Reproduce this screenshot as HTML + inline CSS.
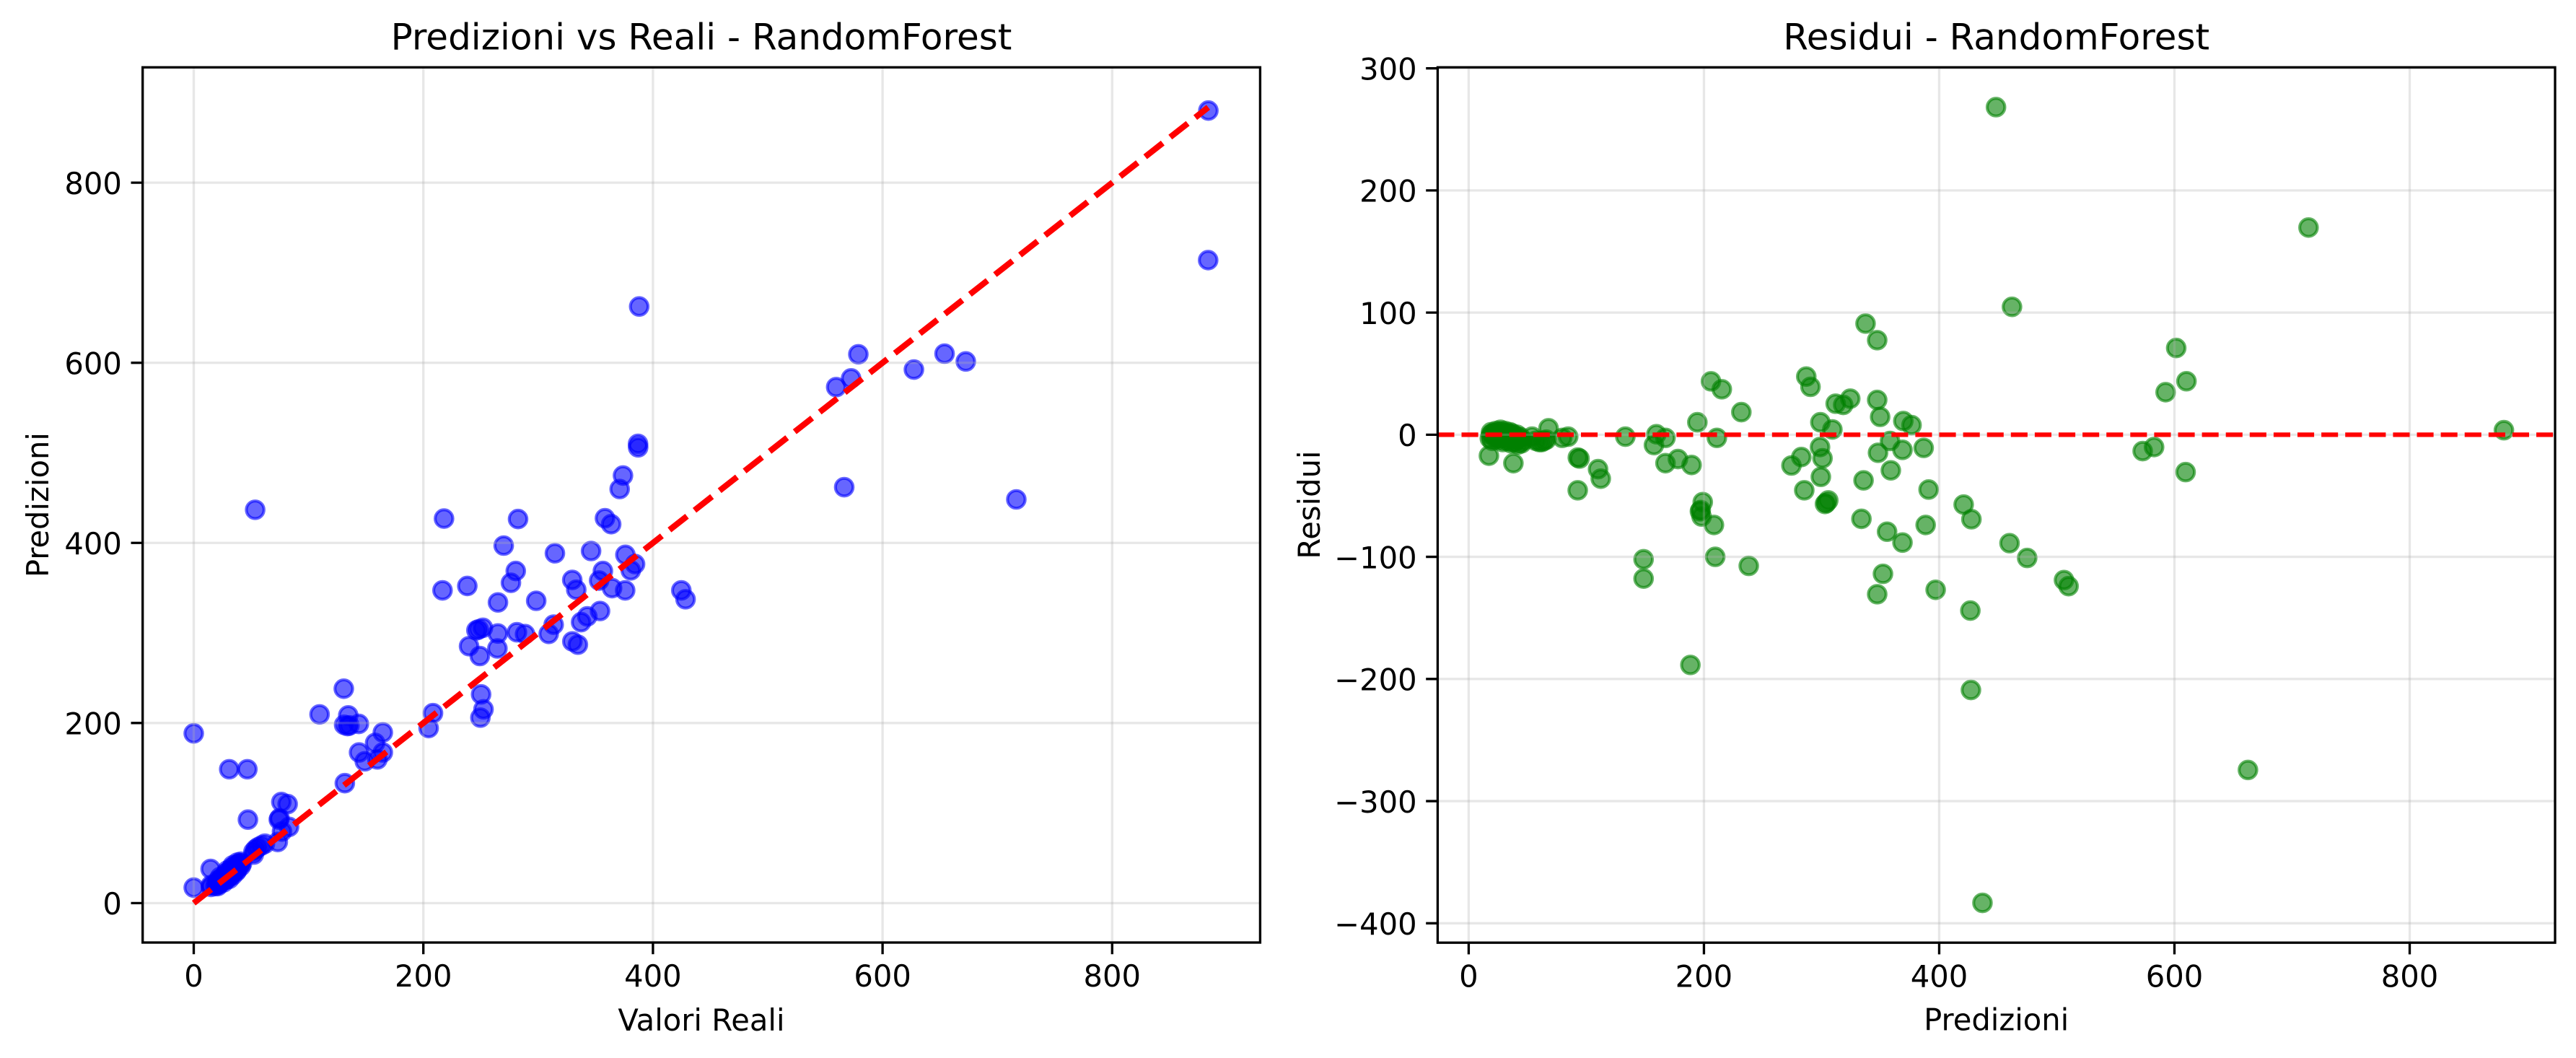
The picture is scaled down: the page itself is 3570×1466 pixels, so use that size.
<!DOCTYPE html>
<html lang="it">
<head>
<meta charset="utf-8">
<title>Predizioni vs Reali e Residui - RandomForest</title>
<style>
html,body{margin:0;padding:0;background:#fff;width:3570px;height:1466px;overflow:hidden}
svg{display:block}
text{font-family:"DejaVu Sans","Liberation Sans",sans-serif;fill:#000}
.tick-text{font-size:41.67px}
.axis-title{font-size:41.67px}
.plot-title{font-size:50px}
</style>
</head>
<body>
<svg id="figure" xmlns="http://www.w3.org/2000/svg" width="3570" height="1466" viewBox="0 0 3570 1466">
  <defs>
    <clipPath id="clip-left"><rect x="197.7" y="93.3" width="1548.7" height="1212.7"/></clipPath>
    <clipPath id="clip-right"><rect x="1992.4" y="93.3" width="1548.6" height="1212.9"/></clipPath>
  </defs>
  <rect x="0" y="0" width="3570" height="1466" fill="#ffffff"/>

  <g id="left-panel">
    <g id="left-points" clip-path="url(#clip-left)"></g>
    <g id="left-grid" clip-path="url(#clip-left)"></g>
    <g id="left-line" clip-path="url(#clip-left)"></g>
    <rect x="197.7" y="93.3" width="1548.7" height="1212.7" fill="none" stroke="#000" stroke-width="3.33"/>
    <g id="left-ticks"></g>
    <text class="plot-title" x="972" y="68.5" text-anchor="middle">Predizioni vs Reali - RandomForest</text>
    <text class="axis-title" x="972" y="1428" text-anchor="middle">Valori Reali</text>
    <text class="axis-title" transform="translate(67 699.6) rotate(-90)" text-anchor="middle">Predizioni</text>
  </g>

  <g id="right-panel">
    <g id="right-points" clip-path="url(#clip-right)"></g>
    <g id="right-grid" clip-path="url(#clip-right)"></g>
    <g id="right-line" clip-path="url(#clip-right)"></g>
    <rect x="1992.4" y="93.3" width="1548.6" height="1212.9" fill="none" stroke="#000" stroke-width="3.33"/>
    <g id="right-ticks"></g>
    <text class="plot-title" x="2766.7" y="68.5" text-anchor="middle">Residui - RandomForest</text>
    <text class="axis-title" x="2766.7" y="1427.5" text-anchor="middle">Predizioni</text>
    <text class="axis-title" transform="translate(1829 699.6) rotate(-90)" text-anchor="middle">Residui</text>
  </g>
</svg>

<script>
const actualValues = [
  15,19,21,15,22,20,26,23,21,28,31,28,25,23,31,34,30,28,34,37,32,29,38,37,33,37,41,34,39,42,38,41,
  0,14.7,74.1,74.7,81.8,76.3,47.2,52.3,52,54,56,59,62,73.2,76.9,83,131.6,160,164.7,149,144,158,164.7,
  204.6,208.4,249.7,252.4,250.3,143.8,135.6,133.9,131,134.6,109.6,130.7,46.7,30.9,0,249.2,264.5,334.6,
  329.8,239.8,309.2,313.5,288.6,281.5,264.9,251.9,246.2,248.2,337.4,342.8,353.9,375.8,364.4,380.7,384.4,
  353.1,333.2,356.4,376,329.7,298.3,265,276.3,280.5,238.3,216.7,346.1,314.6,270,428.4,424.7,716.5,566.6,
  883.6,672.5,654,627.3,883.8,559.6,572.6,578.9,363.6,358.2,371,373.9,387.1,387,282.5,218,53.5,388
];
const predictedValues = [
  18,19,19,20,21,22,23,24,25,26,27,28,28,29,30,31,32,33,34,35,36,36,37,38,39,40,41,42,43,44,45,46,
  17.2,38,92.8,94.2,110,112.3,92.7,53.9,57,60,62,64,66,67.9,79.5,84.6,133.2,159.6,167.3,157.5,167.3,177.9,189.5,
  194.4,211,206,215.2,231.8,199,197.3,196.6,198,208.5,209.6,238.1,148.7,148.7,188.5,274.4,282.8,287,
  290.6,285.3,299,309.2,298.7,300.8,299.4,305.7,302.9,304,312,318.4,324.4,347.3,349.8,369.5,376.5,
  358.2,348,368.8,386.8,358.9,335.7,333.9,355.7,368.8,352.2,347.3,391,388.5,397,337.4,347.3,448.3,461.9,
  714,601.5,610.2,592.5,880.1,573,582.7,609.5,420.8,427.4,459.8,474.8,506.1,510,426.5,427,436.8,662.5
];
const residualValues = [
  -3,0,2,-5,1,-2,3,-1,-4,2,4,0,-3,-6,1,3,-2,-5,0,2,-4,-7,1,-1,-6,-3,0,-8,-4,-2,-7,-5,
  -17.2,-23.3,-18.7,-19.5,-28.2,-36,-45.5,-1.6,-5,-6,-6,-5,-4,5.3,-2.6,-1.6,-1.6,0.4,-2.6,-8.5,-23.3,-19.9,-24.8,
  10.2,-2.6,43.7,37.2,18.5,-55.2,-61.7,-62.7,-67,-73.9,-100,-107.4,-102,-117.8,-188.5,-25.2,-18.3,47.6,
  39.2,-45.5,10.2,4.3,-10.1,-19.3,-34.5,-53.8,-56.7,-55.8,25.4,24.4,29.5,28.5,14.6,11.2,7.9,
  -5.1,-14.8,-12.4,-10.8,-29.2,-37.4,-68.9,-79.4,-88.3,-113.9,-130.6,-44.9,-73.9,-127,91,77.4,268.2,104.7,
  169.6,71,43.8,34.8,3.7,-13.4,-10.1,-30.6,-57.2,-69.2,-88.8,-100.9,-119,-124,-144,-209,-383.3,-274.5
];
const leftXTicks = [0, 200, 400, 600, 800];
const leftYTicks = [0, 200, 400, 600, 800];
const rightXTicks = [0, 200, 400, 600, 800];
const rightYTicks = [-400, -300, -200, -100, 0, 100, 200, 300];
const identityLineValues = [0, 883.7];
const zeroResidualValue = 0;

const NS = 'http://www.w3.org/2000/svg';

function linearScale(d0, d1, r0, r1) {
  return function (v) { return r0 + (v - d0) * (r1 - r0) / (d1 - d0); };
}
const leftBox = { l: 197.7, r: 1746.4, t: 93.3, b: 1306 };
const rightBox = { l: 1992.4, r: 3541, t: 93.3, b: 1306.2 };
const leftX = linearScale(-44.5, 928.9, leftBox.l, leftBox.r);
const leftY = linearScale(-43.76, 928.1, leftBox.b, leftBox.t);
const rightX = linearScale(-26.38, 923.6, rightBox.l, rightBox.r);
const rightY = linearScale(-415.9, 300.8, rightBox.b, rightBox.t);

function make(tag, attrs, parent) {
  const el = document.createElementNS(NS, tag);
  Object.keys(attrs).forEach(function (k) { el.setAttribute(k, attrs[k]); });
  parent.appendChild(el);
  return el;
}
function fmt(v) { return String(v).replace('-', '\u2212'); }

function drawPoints(parentId, xs, ys, sx, sy, color) {
  const parent = document.getElementById(parentId);
  xs.forEach(function (x, i) {
    const c = make('circle', {
      cx: sx(x).toFixed(2), cy: sy(ys[i]).toFixed(2), r: 12.2,
      fill: color, 'fill-opacity': 0.6, stroke: color, 'stroke-opacity': 0.6, 'stroke-width': 4.17
    }, parent);
    
    
  });
}
function drawGrid(parentId, xTicks, yTicks, sx, sy, box) {
  const parent = document.getElementById(parentId);
  xTicks.forEach(function (t) {
    const l = make('line', {
      x1: sx(t), x2: sx(t), y1: box.t, y2: box.b,
      stroke: '#b0b0b0', 'stroke-opacity': 0.3, 'stroke-width': 3.33
    }, parent);
    
    
  });
  yTicks.forEach(function (t) {
    const l = make('line', {
      x1: box.l, x2: box.r, y1: sy(t), y2: sy(t),
      stroke: '#b0b0b0', 'stroke-opacity': 0.3, 'stroke-width': 3.33
    }, parent);
    
    
  });
}
function drawTicks(parentId, xTicks, yTicks, sx, sy, box, xLabelBaseline) {
  const parent = document.getElementById(parentId);
  xTicks.forEach(function (t) {
    const l = make('line', {
      x1: sx(t), x2: sx(t), y1: box.b, y2: box.b + 16.2, stroke: '#000', 'stroke-width': 3.33
    }, parent);
    
    
    const txt = make('text', { x: sx(t), y: xLabelBaseline, 'text-anchor': 'middle', class: 'tick-text' }, parent);
    txt.textContent = fmt(t);
    
    
  });
  yTicks.forEach(function (t) {
    const l = make('line', {
      x1: box.l - 16.2, x2: box.l, y1: sy(t), y2: sy(t), stroke: '#000', 'stroke-width': 3.33
    }, parent);
    
    
    const txt = make('text', { x: box.l - 28.8, y: sy(t) + 15.8, 'text-anchor': 'end', class: 'tick-text' }, parent);
    txt.textContent = fmt(t);
    
    
  });
}

drawPoints('left-points', actualValues, predictedValues, leftX, leftY, '#0000ff');
drawGrid('left-grid', leftXTicks, leftYTicks, leftX, leftY, leftBox);
const identityLine = make('line', {
  x1: leftX(identityLineValues[0]), y1: leftY(identityLineValues[0]),
  x2: leftX(identityLineValues[1]), y2: leftY(identityLineValues[1]),
  stroke: '#ff0000', 'stroke-width': 8.33, 'stroke-dasharray': '30.8 13.3'
}, document.getElementById('left-line'));


drawTicks('left-ticks', leftXTicks, leftYTicks, leftX, leftY, leftBox, 1367);

drawPoints('right-points', predictedValues, residualValues, rightX, rightY, '#008000');
drawGrid('right-grid', rightXTicks, rightYTicks, rightX, rightY, rightBox);
const zeroLine = make('line', {
  x1: rightBox.l, y1: rightY(zeroResidualValue), x2: rightBox.r, y2: rightY(zeroResidualValue),
  stroke: '#ff0000', 'stroke-width': 6.25, 'stroke-dasharray': '23.1 10'
}, document.getElementById('right-line'));


drawTicks('right-ticks', rightXTicks, rightYTicks, rightX, rightY, rightBox, 1367.5);
</script>
</body>
</html>
